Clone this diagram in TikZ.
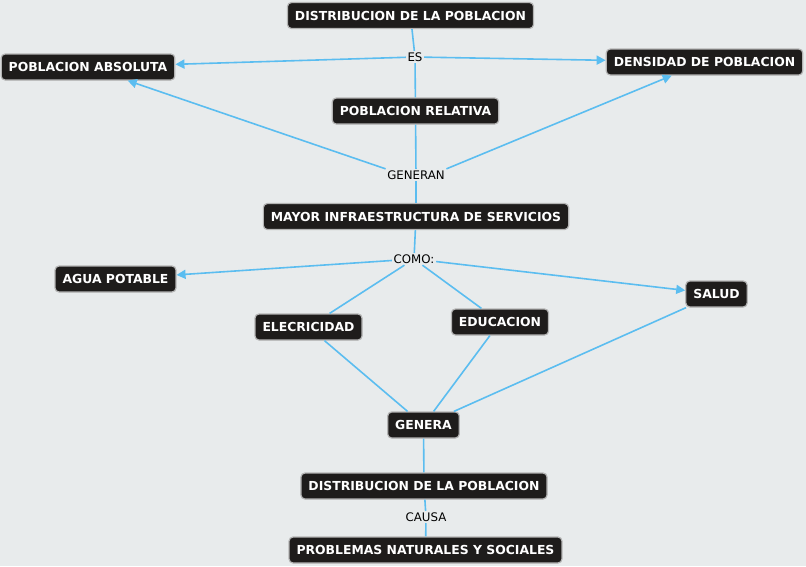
\documentclass[tikz,border=0pt]{standalone}
\usepackage{fontspec}
\setmainfont{DejaVu Sans}
\usepackage{xcolor}
\usetikzlibrary{arrows.meta, positioning}
\definecolor{bgcanvas}{HTML}{E8EBEC}
\definecolor{boxdark}{HTML}{1E1C1B}
\definecolor{boxedge}{HTML}{B4B4B4}
\definecolor{linkblue}{HTML}{5BBDF0}
\tikzstyle{line}  = [linkblue, line width=1.6pt]
\tikzstyle{arrow} = [line, -{Triangle[length=9pt,width=9pt]}]

\begin{document}
\begin{tikzpicture}[x=1pt, y=-1pt,
    concept/.style={rectangle, rounded corners=4pt, draw=boxedge, line width=1.2pt,
                    fill=boxdark, text=white, minimum height=26pt, inner xsep=7.5pt,
                    font=\bfseries\fontsize{12.4}{14}\selectfont},
    link/.style={inner sep=1.5pt, font=\fontsize{11.8}{14}\selectfont}
]
  \fill[bgcanvas] (0,0) rectangle (806,566);
  \useasboundingbox (0,0) rectangle (806,566);

  % --- top: distribution ---
  \node[concept] (DIST)  at (410.5, 15.5) {DISTRIBUCION DE LA POBLACION};
  \node[link]    (ES)    at (415,   57)   {ES};
  \node[concept] (PABS)  at (88,    67)   {POBLACION ABSOLUTA};
  \node[concept] (DENS)  at (704.5, 62)   {DENSIDAD DE POBLACION};
  \node[concept] (PREL)  at (415.5, 111)  {POBLACION RELATIVA};
  \draw[line]  (DIST) -- (ES);
  \draw[line]  (ES) -- (PREL);
  \draw[arrow] (ES) -- (PABS);
  \draw[arrow] (ES) -- (DENS);

  % --- generan ---
  \node[link]    (GENERAN) at (416, 175)   {GENERAN};
  \node[concept] (INFRA)   at (416, 216.5) {MAYOR INFRAESTRUCTURA DE SERVICIOS};
  \draw[line]  (PREL) -- (GENERAN);
  \draw[arrow] (GENERAN.north west) -- (PABS);
  \draw[arrow] (GENERAN.north east) -- (DENS);
  \draw[line]  (GENERAN) -- (INFRA);

  % --- services ---
  \node[link]    (COMO)  at (414,   259) {COMO:};
  \node[concept] (AGUA)  at (115.5, 279) {AGUA POTABLE};
  \node[concept] (SALUD) at (716.5, 294) {SALUD};
  \node[concept] (ELEC)  at (308.5, 327) {ELECRICIDAD};
  \node[concept] (EDUC)  at (500,   322) {EDUCACION};
  \draw[line]  (INFRA) -- (COMO);
  \draw[arrow] (COMO) -- (AGUA);
  \draw[arrow] (COMO) -- (SALUD);
  \draw[line]  (COMO) -- (ELEC);
  \draw[line]  (COMO) -- (EDUC);

  % --- bottom ---
  \node[concept] (GENERA) at (423.5, 425) {GENERA};
  \node[concept] (DIST2)  at (424,   486) {DISTRIBUCION DE LA POBLACION};
  \node[link]    (CAUSA)  at (426,   517) {CAUSA};
  \node[concept] (PROB)   at (425.5, 550) {PROBLEMAS NATURALES Y SOCIALES};
  \draw[line] (ELEC)  -- (GENERA);
  \draw[line] (EDUC)  -- (GENERA);
  \draw[line] (SALUD) -- (GENERA);
  \draw[line] (GENERA) -- (DIST2);
  \draw[line] (DIST2) -- (CAUSA);
  \draw[line] (CAUSA) -- (PROB);
\end{tikzpicture}
\end{document}
